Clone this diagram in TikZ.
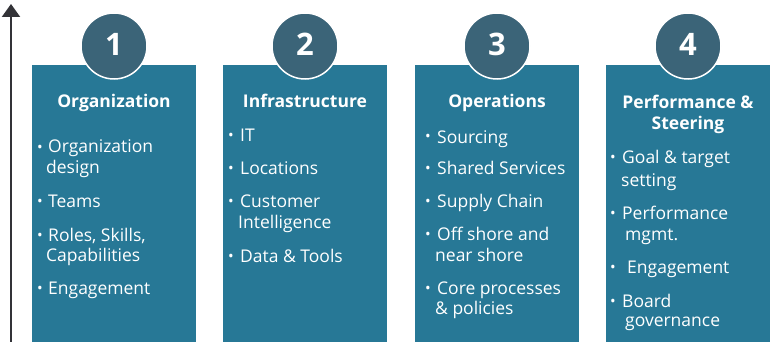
\documentclass[tikz,border=0pt]{standalone}
\usepackage{fontspec}
\setmainfont{Open Sans}
\usetikzlibrary{arrows.meta}
\definecolor{panelc}{HTML}{277896}
\definecolor{discc}{HTML}{3B6478}
\definecolor{axisc}{HTML}{333338}
\begin{document}
\begin{tikzpicture}[x=1pt,y=-1pt,
  panel/.style={fill=panelc, draw=none, minimum width=164pt, minimum height=277pt, anchor=north west, inner sep=0pt},
  disc/.style={circle, fill=discc, draw=white, line width=1.5pt, minimum size=66pt, inner sep=0pt},
  num/.style={text=white, font=\fontsize{31}{31}\selectfont\bfseries, anchor=base, inner sep=0pt},
  ttl/.style={text=white, font=\fontsize{17.5}{20}\selectfont\bfseries, anchor=base, inner sep=0pt},
  itm/.style={text=white, font=\fontsize{17.5}{21}\selectfont, anchor=base west, inner sep=0pt},
  bul/.style={text=white, font=\fontsize{15}{15}\selectfont, anchor=base, inner sep=0pt}
]
\useasboundingbox (0,0) rectangle (776,342);
\fill[white] (0,0) rectangle (776,342);
% axis arrow
\coordinate (ab) at (11,342);
\coordinate (at) at (11,4);
\draw[axisc, line width=2.2pt, -{Triangle[width=18pt,length=13pt]}] (ab) -- (at);
% panels
\node[panel] (p1) at (32,65) {};
\node[panel] (p2) at (223,65) {};
\node[panel] (p3) at (415,65) {};
\node[panel] (p4) at (606,65) {};
% discs
\node[disc] (c1) at (114,46) {};
\node[disc] (c2) at (305,46) {};
\node[disc] (c3) at (497,46) {};
\node[disc] (c4) at (688,46) {};
\node[num] (n1) at (114,56) {1};
\node[num] (n2) at (305,56) {2};
\node[num] (n3) at (497,56) {3};
\node[num] (n4) at (688,56) {4};
% titles
\node[ttl] (t1) at (114,108) {Organization};
\node[ttl] (t2) at (305,108) {Infrastructure};
\node[ttl] (t3) at (497,108) {Operations};
\node[ttl] (t4a) at (688,109) {Performance \&};
\node[ttl] (t4b) at (688,129) {Steering};
% column 1
\node[bul] (b11) at (40,152) {•};
\node[itm] (i11a) at (48,153) {Organization};
\node[itm] (i11b) at (46,173) {design};
\node[bul] (b12) at (40,206) {•};
\node[itm] (i12) at (48,207) {Teams};
\node[bul] (b13) at (40,240) {•};
\node[itm] (i13a) at (48,241) {Roles, Skills,};
\node[itm] (i13b) at (46,261) {Capabilities};
\node[bul] (b14) at (40,293) {•};
\node[itm] (i14) at (48,294) {Engagement};
% column 2
\node[bul] (b21) at (231,141) {•};
\node[itm] (i21) at (240,142) {IT};
\node[bul] (b22) at (231,173) {•};
\node[itm] (i22) at (240,174) {Locations};
\node[bul] (b23) at (231,206) {•};
\node[itm] (i23a) at (240,207) {Customer};
\node[itm] (i23b) at (238,228) {Intelligence};
\node[bul] (b24) at (231,261) {•};
\node[itm] (i24) at (240,262) {Data \& Tools};
% column 3
\node[bul] (b31) at (428,142) {•};
\node[itm] (i31) at (437,143) {Sourcing};
\node[bul] (b32) at (428,173) {•};
\node[itm] (i32) at (437,174) {Shared Services};
\node[bul] (b33) at (428,206) {•};
\node[itm] (i33) at (437,207) {Supply Chain};
\node[bul] (b34) at (428,239) {•};
\node[itm] (i34a) at (437,240) {Off shore and};
\node[itm] (i34b) at (435,261) {near shore};
\node[bul] (b35) at (428,293) {•};
\node[itm] (i35a) at (437,294) {Core processes};
\node[itm] (i35b) at (435,314) {\& policies};
% column 4
\node[bul] (b41) at (613,162) {•};
\node[itm] (i41a) at (622,163) {Goal \& target};
\node[itm] (i41b) at (621,186) {setting};
\node[bul] (b42) at (613,218) {•};
\node[itm] (i42a) at (622,219) {Performance};
\node[itm] (i42b) at (625,240) {mgmt.};
\node[bul] (b43) at (613,272) {•};
\node[itm] (i43) at (627,273) {Engagement};
\node[bul] (b44) at (613,306) {•};
\node[itm] (i44a) at (622,307) {Board};
\node[itm] (i44b) at (625,326) {governance};
\end{tikzpicture}
\end{document}
